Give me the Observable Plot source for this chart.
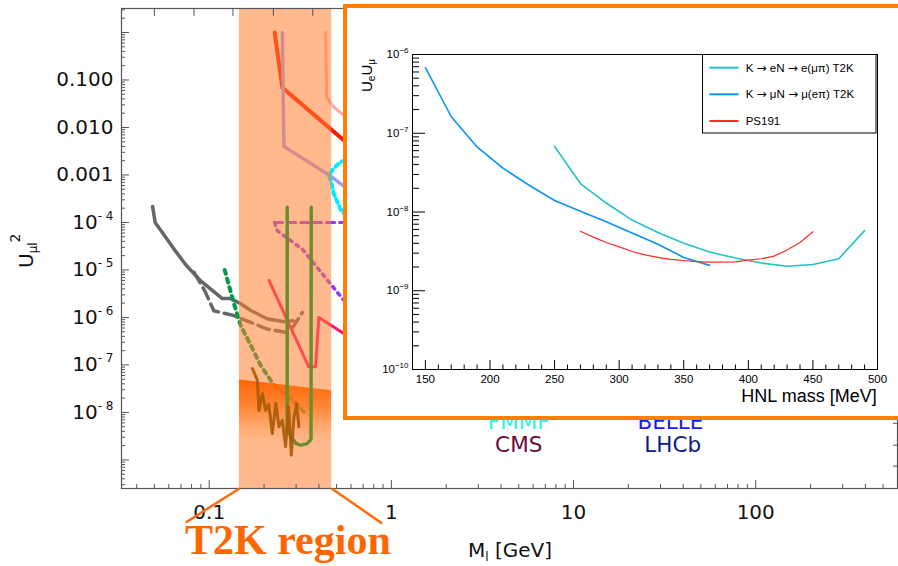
<!DOCTYPE html>
<html><head><meta charset="utf-8">
<script src="https://cdn.jsdelivr.net/npm/d3@7"></script>
<script src="https://cdn.jsdelivr.net/npm/@observablehq/plot@0.6"></script>
<style>
html,body{margin:0;padding:0;background:#fff;overflow:hidden}
#wrap{position:relative;width:898px;height:566px;overflow:hidden;background:#fff}
#insetbox{position:absolute;left:343px;top:4px;width:620px;height:416px;box-sizing:border-box;border:4px solid #ff8000;background:#fff}
</style></head><body>
<div id="wrap"></div>
<script>
// ---------------- main chart data: [mass GeV, |U_mu l|^2] ----------------
const grayLimit = [[0.0489,2.17e-4],[0.0505,1e-4],[0.0641,2.75e-5],[0.0743,1.29e-5],[0.0898,5.9e-6],[0.118,2.5e-6],[0.131,2.5e-6],[0.149,1.94e-6],[0.169,1.4e-6],[0.208,9.4e-7],[0.256,8.1e-7],[0.29,8.5e-7]];
const grayDashed = [[0.0826,8.9e-6],[0.095,3.5e-6],[0.106,1.38e-6],[0.137,1.09e-6],[0.17,7.8e-7],[0.208,5.7e-7],[0.268,4.8e-7],[0.292,6.7e-7],[0.324,1.27e-6]];
const greenDotted = [[0.1216,1e-5],[0.137,1.9e-6],[0.149,6.7e-7],[0.17,2.5e-7],[0.191,1e-7],[0.226,3.8e-8],[0.28,2e-8],[0.33,1.05e-8]];
const oliveLimit = [[0.268,2.1e-4],[0.268,4.3e-9],[0.286,2.8e-9],[0.3,2.2e-9],[0.3175,2.05e-9],[0.345,2.2e-9],[0.362,2.7e-9],[0.363,2.1e-4]];
const brownJagged = [[0.1726,8.4e-8],[0.1837,4.8e-8],[0.1875,1.1e-8],[0.196,2.5e-8],[0.204,1.1e-8],[0.212,1.5e-8],[0.222,3.6e-9],[0.232,1.55e-8],[0.2416,5e-9],[0.252,6.9e-9],[0.2625,1.9e-9],[0.273,1.3e-8],[0.2823,1.26e-9],[0.2917,8e-9],[0.302,1.5e-8],[0.3106,5e-9]];
const redLimit = [[0.2286,1.0],[0.252,0.069],[0.548,5.4e-3],[0.8,2e-3]];
const lavenderLimit = [[0.252,1.0],[0.257,4e-3],[0.454,1e-3],[0.548,5.8e-4],[0.8,3e-4]];
const salmonLimit = [[0.4355,1.0],[0.441,0.043],[0.483,0.027],[0.548,0.018],[0.8,0.012]];
const cyanDotted = [[0.56,2.0e-3],[0.526,1.9e-3],[0.483,1.38e-3],[0.454,1.0e-3],[0.472,6.2e-4],[0.483,4e-4],[0.526,1.9e-4],[0.56,1.4e-4]];
const purpleDashed = [[0.2286,1e-4],[0.8,1e-4]];
const purpleDotted = [[0.2286,1e-4],[0.2365,6.7e-5],[0.324,2.75e-5],[0.548,2.3e-6],[0.7,1e-6]];
const crimsonLimit = [[0.2128,6e-6],[0.352,9.1e-8],[0.3835,9.1e-8],[0.4,1e-6],[0.548,4.6e-7],[0.7,3e-7]];
const t2kBand = [[0.1465,0.47]];
const t2kSensitivity = [[0.1465,4.8e-8],[0.47,2.85e-8]];
const calloutFrom = [[0.1465,2.5e-10],[0.47,2.5e-10]];
const calloutTo = [[0.0743,4.8e-11],[0.89,4.6e-11]];
const expNames = ["FMMF","BELLE","CMS","LHCb"];
const expMass = [5,34,5,35];
const expU2 = [6.4e-9,6.4e-9,2.04e-9,2.04e-9];
const xMajor = [0.1,1,10,100];
const yLabelled = [0.1,0.01,0.001,1e-4,1e-5,1e-6,1e-7,1e-8];
const yUnlabelled = [1,1e-9];
const topTicks = [0.05,0.0825,0.135,0.225,0.37];
const rightTicks = [5.9e-9,2.04e-9,7.4e-10];

// ---------------- inset data: [HNL mass MeV, UeUmu] ----------------
const insetMass_eN = [250,270,290,310,330,350,370,390,410,430,450,470,490];
const insetU_eN = [6.8e-8,2.3e-8,1.3e-8,7.9e-9,5.5e-9,4.0e-9,3.1e-9,2.6e-9,2.25e-9,2.05e-9,2.15e-9,2.55e-9,5.8e-9];
const insetMass_muN = [150,170,190,210,230,250,270,290,310,330,350,370];
const insetU_muN = [6.8e-7,1.62e-7,6.7e-8,3.6e-8,2.2e-8,1.4e-8,1.02e-8,7.5e-9,5.4e-9,3.9e-9,2.65e-9,2.1e-9];
const insetMass_ps191 = [270,280,290,300,310,320,330,340,350,360,370,380,390,400,410,420,430,440,450];
const insetU_ps191 = [5.7e-9,4.8e-9,4.1e-9,3.6e-9,3.15e-9,2.85e-9,2.65e-9,2.5e-9,2.42e-9,2.35e-9,2.31e-9,2.31e-9,2.33e-9,2.45e-9,2.55e-9,2.75e-9,3.3e-9,4.1e-9,5.6e-9];
const legendLabels = ["K \u2192 eN \u2192 e(\u03bc\u03c0) T2K","K \u2192 \u03bcN \u2192 \u03bc(e\u03c0) T2K","PS191"];
const insetXMajor = [150,200,250,300,350,400,450,500];
const insetYMajor = [1e-10,1e-9,1e-8,1e-7,1e-6];

// ---------------- helpers ----------------
const ns = "http://www.w3.org/2000/svg";
function minorLog(lo, hi, min, max) {
  const out = [];
  for (let e = lo; e < hi; e++) for (let m = 2; m <= 9; m++) { const v = m * Math.pow(10, e); if (v >= min && v <= max) out.push(v); }
  return out;
}
function supify(svg, supSize, dy) {
  svg.querySelectorAll("text").forEach(t => {
    const m = t.textContent.match(/^10\^(.*)$/);
    if (!m) return;
    t.textContent = "";
    const a = document.createElementNS(ns, "tspan"); a.textContent = "10";
    const b = document.createElementNS(ns, "tspan"); b.textContent = m[1];
    b.setAttribute("font-size", supSize); b.setAttribute("dy", dy);
    t.append(a, b);
  });
}
const X = d => d[0], Y = d => d[1];
const XD = [0.033, 600], YD = [2.5e-10, 3.2];

const expColor = {FMMF:"#2ef0e0", BELLE:"#1a1aff", CMS:"#6b0a3c", LHCb:"#0c1a8c"};
const expIdx = expNames.map((_, i) => i);

const main = Plot.plot({
  width: 898, height: 566,
  marginLeft: 121, marginTop: 8, marginRight: 1, marginBottom: 78,
  x: {type: "log", domain: XD, label: null},
  y: {type: "log", domain: YD, label: null},
  style: {fontFamily: "DejaVu Sans, sans-serif", fontSize: "20px", background: "white", color: "#111"},
  marks: [
    Plot.line(grayLimit, {x: X, y: Y, stroke: "#666", strokeWidth: 3.5}),
    Plot.line(grayDashed, {x: X, y: Y, stroke: "#666", strokeWidth: 3.5, strokeDasharray: "12,6"}),
    Plot.line(greenDotted, {x: X, y: Y, stroke: "#009a4a", strokeWidth: 4, strokeDasharray: "4,5"}),
    Plot.line(redLimit, {x: X, y: Y, stroke: "#ff1a00", strokeWidth: 4}),
    Plot.line(lavenderLimit, {x: X, y: Y, stroke: "#9c9cff", strokeWidth: 3.5}),
    Plot.line(salmonLimit, {x: X, y: Y, stroke: "#ffaaaa", strokeWidth: 3}),
    Plot.line(cyanDotted, {x: X, y: Y, stroke: "#00eeff", strokeWidth: 4, strokeDasharray: "4,4"}),
    Plot.line(purpleDashed, {x: X, y: Y, stroke: "#9933ff", strokeWidth: 3, strokeDasharray: "8,5"}),
    Plot.line(purpleDotted, {x: X, y: Y, stroke: "#9933ff", strokeWidth: 3.5, strokeDasharray: "3,5"}),
    Plot.line(crimsonLimit, {x: X, y: Y, stroke: "#ff1177", strokeWidth: 3}),
    Plot.rect(t2kBand, {x1: X, x2: Y, fill: "#ff8030", fillOpacity: 0.55}),
    Plot.areaY(t2kSensitivity, {x: X, y1: () => YD[0], y2: Y, fill: "url(#t2kgrad)"}),
    Plot.line(oliveLimit, {x: X, y: Y, stroke: "#6f8c2a", strokeWidth: 3.5}),
    Plot.line(brownJagged, {x: X, y: Y, stroke: "#a85a05", strokeWidth: 3, strokeOpacity: 0.9}),
    Plot.text(expIdx, {x: i => expMass[i], y: i => expU2[i], text: i => expNames[i], fill: i => expColor[expNames[i]], fontSize: 21.5, textAnchor: "middle", lineAnchor: "middle"}),
    Plot.axisX(xMajor, {tickSize: -8, tickPadding: 24, tickFormat: d => String(d), stroke: "#555", fill: "#111", fontSize: 20, label: null}),
    Plot.axisX(minorLog(-2, 3, XD[0], XD[1]), {tickSize: -4, stroke: "#555", fill: "none", label: null}),
    Plot.axisX(topTicks, {anchor: "top", tickSize: -7, stroke: "#555", fill: "none", label: null}),
    Plot.axisY(yLabelled, {tickSize: -8, tickPadding: 16, tickFormat: d => d >= 0.001 ? d.toFixed(3) : "10^- " + Math.round(-Math.log10(d)), stroke: "#555", fill: "#111", fontSize: 20, label: null}),
    Plot.axisY(yUnlabelled, {tickSize: -8, stroke: "#555", fill: "none", label: null}),
    Plot.axisY(minorLog(-10, 1, YD[0], YD[1]), {tickSize: -4, stroke: "#555", fill: "none", label: null}),
    Plot.axisY(rightTicks, {anchor: "right", tickSize: -5, stroke: "#555", fill: "none", label: null}),
    Plot.frame({stroke: "#555", strokeWidth: 1.2}),
    Plot.link(d3.range(calloutFrom.length), {x1: i => calloutFrom[i][0], y1: i => calloutFrom[i][1], x2: i => calloutTo[i][0], y2: i => calloutTo[i][1], stroke: "#ff6a10", strokeWidth: 2.5})
  ]
});
supify(main, 12, -9);
const ms = d3.select(main);
const defs = ms.insert("defs", ":first-child");
const g = defs.append("linearGradient").attr("id", "t2kgrad").attr("x1", 0).attr("y1", 0).attr("x2", 0).attr("y2", 1);
g.append("stop").attr("offset", "0").attr("stop-color", "#ff6000").attr("stop-opacity", 0.95);
g.append("stop").attr("offset", "0.25").attr("stop-color", "#ff7010").attr("stop-opacity", 0.7);
g.append("stop").attr("offset", "0.58").attr("stop-color", "#ff9040").attr("stop-opacity", 0.0);
// axis titles
const yt = ms.append("text").attr("transform", "translate(33,268) rotate(-90)").attr("text-anchor", "start").attr("font-size", 20).attr("fill", "#111").attr("font-family", "DejaVu Sans");
yt.append("tspan").text("U");
yt.append("tspan").attr("font-size", 12).attr("dy", 4).text("\u03bcl");
yt.append("tspan").attr("font-size", 14).attr("dy", -17).text("2");
const xt = ms.append("text").attr("x", 468).attr("y", 557).attr("text-anchor", "start").attr("font-size", 20).attr("fill", "#111").attr("font-family", "DejaVu Sans");
xt.append("tspan").text("M");
xt.append("tspan").attr("font-size", 12).attr("dy", 4).text("l");
xt.append("tspan").attr("dy", -4).text(" [GeV]");
ms.append("text").attr("x", 185).attr("y", 554).attr("text-anchor", "start").attr("font-family", "Liberation Serif, serif").attr("font-weight", "bold").attr("font-size", 42).attr("fill", "#ff6600").text("T2K region");

// ---------------- inset ----------------
const iEN = insetMass_eN.map((m, i) => [m, insetU_eN[i]]);
const iMuN = insetMass_muN.map((m, i) => [m, insetU_muN[i]]);
const iPS = insetMass_ps191.map((m, i) => [m, insetU_ps191[i]]);
const inset = Plot.plot({
  width: 551, height: 408,
  marginLeft: 65, marginRight: 21, marginTop: 46, marginBottom: 47,
  x: {domain: [140, 500], label: null},
  y: {type: "log", domain: [1e-10, 1e-6], label: null},
  style: {fontFamily: "Liberation Sans, Arial, sans-serif", fontSize: "11.5px", background: "white", color: "#000"},
  marks: [
    Plot.line(iEN, {x: X, y: Y, stroke: "#20c4c4", strokeWidth: 1.6}),
    Plot.line(iMuN, {x: X, y: Y, stroke: "#0a93f5", strokeWidth: 1.6}),
    Plot.line(iPS, {x: X, y: Y, stroke: "#ff2a2a", strokeWidth: 1.2}),
    Plot.axisX(insetXMajor, {tickSize: -9, tickPadding: 14, tickFormat: d => String(d), fontSize: 11.5, label: null}),
    Plot.axisX(d3.range(140, 501, 10).filter(v => v % 50 !== 0), {tickSize: -4.5, fill: "none", label: null}),
    Plot.axisY(insetYMajor, {tickSize: -13, tickPadding: 17, tickFormat: d => "10^\u2212" + Math.round(-Math.log10(d)), fontSize: 11.5, label: null}),
    Plot.axisY(minorLog(-10, -6, 1e-10, 1e-6), {tickSize: -7, fill: "none", label: null}),
    Plot.frame({stroke: "#000"})
  ]
});
supify(inset, 8, -5);
const is = d3.select(inset);
// legend
const lg = is.append("g");
lg.append("rect").attr("x", 355.5).attr("y", 46.5).attr("width", 173.5).attr("height", 78.5).attr("fill", "white").attr("stroke", "#000");
const legColors = ["#20c4c4", "#0a93f5", "#ff2a2a"];
const legRowY = [59.7, 86.3, 113];
legendLabels.forEach((t, i) => {
  lg.append("line").attr("x1", 362.4).attr("x2", 391.6).attr("y1", legRowY[i]).attr("y2", legRowY[i]).attr("stroke", legColors[i]).attr("stroke-width", 2);
  const tx = lg.append("text").attr("x", 398.7).attr("y", legRowY[i] + 3.8).attr("text-anchor", "start").attr("font-size", 11.5).attr("fill", "#000");
  t.split(/(\u2192)/).forEach(part => {
    const sp = tx.append("tspan").text(part);
    if (part === "\u2192") sp.attr("font-family", "DejaVu Sans").attr("font-size", 12);
  });
});
const iyt = is.append("text").attr("transform", "translate(25,51) rotate(-90)").attr("text-anchor", "end").attr("font-size", 15).attr("fill", "#000");
iyt.append("tspan").text("U");
iyt.append("tspan").attr("font-size", 10).attr("dy", 3).text("e");
iyt.append("tspan").attr("dy", -3).text("U");
iyt.append("tspan").attr("font-size", 10).attr("dy", 3).text("\u03bc");
is.append("text").attr("x", 529.7).attr("y", 393.7).attr("text-anchor", "end").attr("font-size", 18).attr("fill", "#000").text("HNL mass [MeV]");

const wrap = document.getElementById("wrap");
wrap.append(main);
const box = document.createElement("div"); box.id = "insetbox"; wrap.append(box);
inset.style.position = "absolute"; inset.style.left = "347px"; inset.style.top = "8px";
wrap.append(inset);
</script>
</body></html>
